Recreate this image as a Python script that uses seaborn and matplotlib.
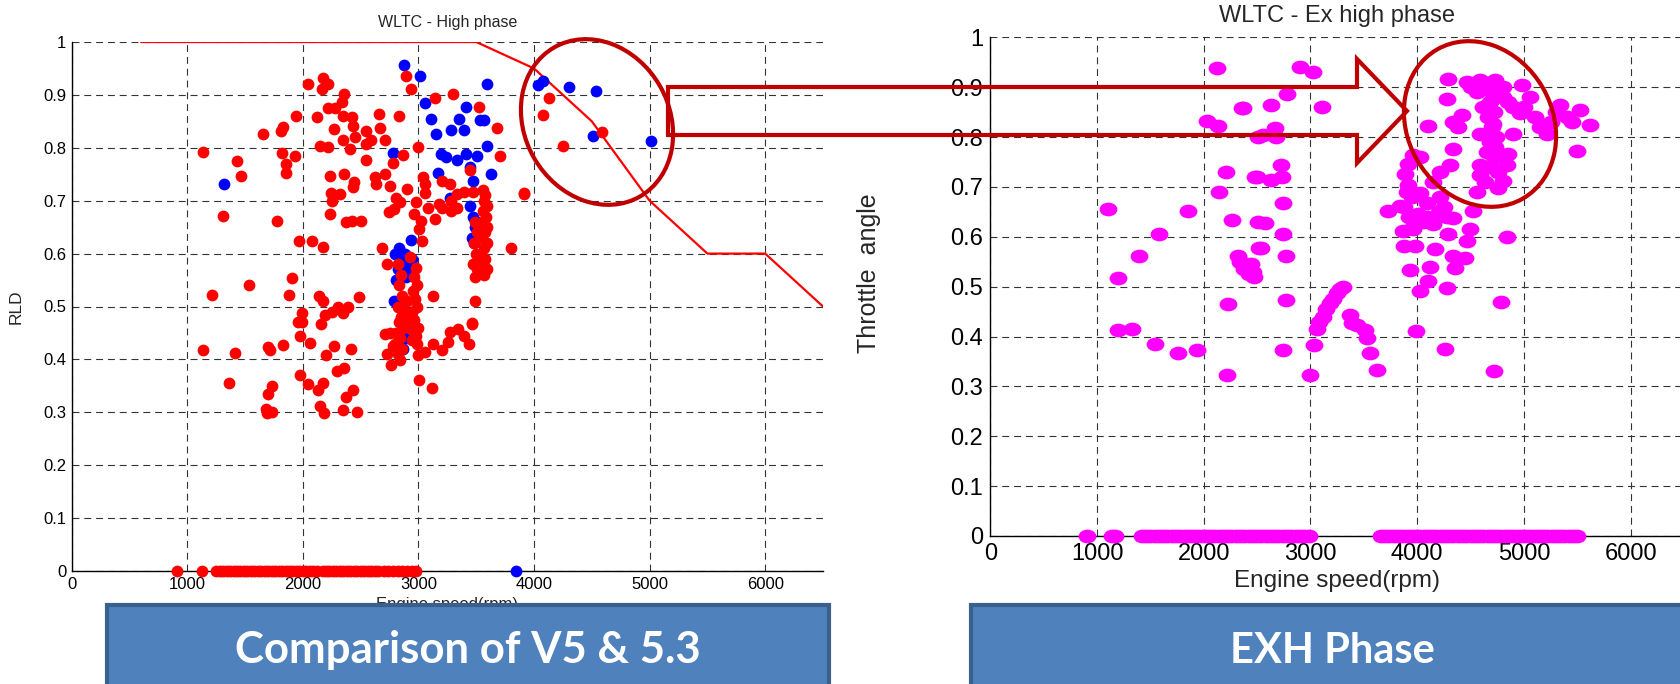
import numpy as np
import pandas as pd
import seaborn as sns
import matplotlib.pyplot as plt
from matplotlib.patches import Ellipse, Polygon, Rectangle
from matplotlib.path import Path
from matplotlib.markers import MarkerStyle
import matplotlib.transforms as mtransforms

# ---------------- left chart: WLTC high phase, RLD vs engine speed ----------------
red_rpm = [1135, 1212, 1308, 1428, 1465, 1536, 1656, 1807, 1829, 1820, 1850, 1853, 1928, 1943,
           1773, 1965, 1903, 1881, 2048, 2122, 2174, 2220, 2165, 2082, 2174, 2152, 2220, 2236,
           2236, 2251, 2245, 2319, 2353, 2375, 2421, 2504, 2443, 2436, 2220, 2276, 2335, 2359,
           2267, 2344, 2421, 2436, 2452, 2344, 2405, 2544, 2544, 2591, 2544, 2659, 2668, 2714,
           2628, 2637, 2708, 2831, 2889, 2939, 2776, 2862, 2998, 2754, 2806, 2899, 2837, 2745,
           2791, 2683, 2729, 3038, 3053, 3053, 2976, 2961, 3022, 3007, 3032, 3146, 3300, 3522,
           3677, 3707, 3448, 3911, 3800, 3207, 3269, 3177, 3084, 3207, 3284, 3331, 3392, 3470,
           3146, 3284, 3331, 3130, 3485, 3461,
           3560, 3580, 3570, 3590, 3555, 3585, 3560, 3595, 3575, 3550, 3590, 3565, 3545, 3580,
           3560, 3590, 3570, 3490, 3510, 3480, 3500, 3520, 3470, 3505, 3490,
           2930, 2976, 2960, 2985, 2950, 2970, 2990, 2945, 2965, 3000, 2940, 2975, 2990,
           2820, 2850, 2830, 2860, 2820, 2850, 2830, 2870, 2810, 2840, 2800, 2860, 2820, 2780,
           2750, 2880, 2900, 2890,
           1135, 1413, 1357, 1696, 1712, 1829, 1696, 1733, 1681, 1687, 1733, 1974, 2060, 1974,
           2042, 2128, 2174, 2150, 2180, 2202, 2267, 2298, 2359, 2375, 2436, 2350, 2467, 2415,
           1989, 2159, 2729, 2766, 2837, 3007, 3115, 2993, 3053, 3130, 3207, 3254, 3269, 3346,
           3392, 3439, 3461, 2714, 2945,
           2483, 2390, 2344, 2190, 2137, 2174, 1989, 1958, 2250, 2300,
           4132, 4074, 4585, 4253, 3913]
red_rld = [.793, .522, .671, .775, .747, .541, .827, .832, .840, .790, .769, .753, .785, .860,
           .662, .624, .553, .521, .921, .859, .932, .921, .912, .624, .612, .803, .801, .747,
           .675, .700, .714, .713, .750, .659, .662, .662, .735, .726, .875, .875, .887, .902,
           .836, .861, .858, .842, .820, .814, .798, .832, .807, .815, .776, .864, .837, .814,
           .744, .731, .750, .861, .935, .911, .772, .787, .801, .728, .706, .722, .697, .678,
           .684, .611, .580, .744, .731, .714, .697, .675, .662, .646, .623, .894, .901, .877,
           .838, .785, .758, .712, .611, .738, .731, .693, .687, .687, .700, .713, .716, .716,
           .665, .681, .687, .520, .510, .468,
           .72, .71, .70, .69, .68, .67, .66, .65, .64, .63, .62, .61, .60, .59,
           .58, .57, .56, .66, .64, .62, .60, .59, .58, .57, .555,
           .593, .573, .556, .54, .53, .515, .50, .49, .475, .46, .455, .445, .43,
           .58, .56, .54, .52, .50, .48, .47, .46, .45, .44, .43, .42, .41, .425,
           .45, .49, .51, .47,
           .417, .412, .356, .423, .417, .428, .335, .349, .307, .298, .301, .445, .431, .370,
           .354, .342, .355, .312, .298, .408, .426, .378, .384, .329, .343, .304, .301, .420,
           .470, .467, .411, .389, .399, .362, .345, .408, .414, .429, .417, .432, .451, .458,
           .445, .429, .467, .448, .436,
           .518, .50, .487, .484, .52, .51, .487, .47, .49, .50,
           .895, .862, .829, .804, .714]

blue_rpm = [1320, 2877, 3013, 3593, 3059, 3109, 3155, 3411, 3352, 3281, 3395, 3531, 3571, 3593,
            3198, 3238, 3334, 3414, 3507, 3170, 3445, 3473, 3624, 2776, 3275, 2939,
            2800, 2830, 2860, 2880, 2900, 2820, 2850, 2890, 2920, 2940, 2810,
            2790, 2830, 2860, 2880, 2900, 2840, 2870, 2940, 2950,
            3450, 3470, 3490, 3460, 3480, 3510,
            4036, 4074, 4305, 4535, 4512, 5009]
blue_rld = [.731, .956, .936, .920, .885, .854, .826, .877, .855, .834, .833, .852, .853, .803,
            .788, .782, .776, .788, .784, .752, .763, .738, .750, .790, .706, .625,
            .60, .61, .59, .60, .58, .57, .56, .555, .57, .59, .55,
            .51, .50, .47, .45, .44, .43, .42, .49, .47,
            .69, .67, .65, .63, .62, .66,
            .919, .927, .914, .908, .823, .812]

red_zero_rpm = [910, 1130, 1250, 1280, 1310, 1340, 1370, 1400, 1430, 1460, 1490, 1520, 1550,
                1580, 1610, 1640, 1670, 1700, 1730, 1760, 1790, 1820, 1850, 1880, 1910, 1940,
                1970, 2000, 2030, 2060, 2090, 2120, 2170, 2200, 2230, 2260, 2290, 2320, 2350,
                2380, 2410, 2440, 2470, 2500, 2530, 2560, 2590, 2620, 2650, 2700, 2740, 2780,
                2820, 2860, 2900, 2940, 2980]
blue_zero_rpm = [3846]

limit_rpm = [600, 3500, 4000, 4500, 5000, 5500, 6000, 6500]
limit_rld = [1.0, 1.0, 0.95, 0.85, 0.70, 0.60, 0.60, 0.50]

# ---------------- right chart: WLTC extra high phase, throttle angle ----------------
exh_rpm = [2125, 2362, 2028, 2131, 2206, 2143, 2262, 1100, 1856, 1581, 1391, 1194, 2318, 2225,
           2340, 2380, 2420, 2460, 2400, 2509, 2481, 2515, 2509,
           1194, 1331, 1544, 1762, 1934, 2221,
           2903, 3021, 2784, 3112, 2631, 2372, 2668, 2553, 2680, 2725, 2497, 2631, 2731, 2746,
           2575, 2746, 2534, 2769, 2440, 2468, 2769,
           3059, 3121, 3184, 3246, 3309, 3080, 3150, 3215, 3280, 3371, 3434, 3512, 3034, 2996,
           2746, 3387, 3528, 3559, 3621, 3990, 4259, 4724,
           4105, 4277, 4293, 4465, 4589, 4730, 4980, 5058, 5339, 5527, 5620, 5501, 5214, 5151,
           4964, 4418, 4340, 4387, 4620, 4714, 4589, 4902, 4730, 4340, 4308, 4589, 4839, 4855,
           4589, 4808, 4761, 4558, 4214, 4152, 3964, 4027, 3917, 3886, 3917, 3949, 4027, 4089,
           4214, 4277, 4340, 4527, 4089, 4011, 3730, 3839, 3870, 3964, 4496, 4840, 4293, 4465,
           3880, 3980, 4168, 4340, 4448, 4355, 3933, 4121, 4105, 4027, 4277, 4783,
           4650, 4700, 4680, 4720, 4660, 4700, 4740, 4680, 4650, 4720, 4690, 4760, 4640, 4800,
           4850, 4900, 5000, 5100, 5250, 5300, 5400, 5450, 4800, 4560, 4500,
           3900, 3880, 3920, 3960, 4050, 4150, 4200, 4250]
exh_ta = [.939, .858, .832, .822, .729, .690, .634, .655, .652, .605, .562, .517, .562, .465,
          .55, .535, .525, .53, .545, .630, .720, .577, .80,
          .413, .416, .385, .366, .372, .323,
          .941, .930, .886, .861, .864, .858, .818, .804, .80, .743, .720, .714, .720, .668,
          .628, .605, .577, .562, .545, .52, .473,
          .416, .440, .467, .487, .500, .43, .455, .475, .495, .443, .423, .413, .382, .323,
          .372, .427, .398, .366, .333, .411, .375, .330,
          .822, .876, .916, .911, .914, .914, .904, .881, .864, .854, .824, .773, .807, .82,
          .848, .844, .83, .82, .861, .827, .806, .807, .78, .776, .744, .744, .744, .766,
          .724, .712, .697, .690, .730, .71, .764, .76, .745, .725, .703, .68, .687, .667,
          .68, .640, .637, .652, .64, .645, .652, .662, .612, .615, .615, .599, .605, .591,
          .581, .581, .576, .561, .558, .537, .533, .539, .511, .492, .498, .470,
          .90, .89, .87, .85, .84, .82, .80, .79, .77, .76, .74, .73, .71, .88,
          .87, .86, .86, .84, .83, .85, .84, .83, .90, .89, .90,
          .69, .66, .64, .62, .63, .625, .65, .66]

exh_zero_rpm = [906, 1140, 1170, 1420, 1460, 1500, 1540, 1580, 1620, 1660, 1700, 1740, 1780,
                1820, 1860, 1900, 1940, 1980, 2020, 2060, 2100, 2140, 2180, 2220, 2260, 2300,
                2340, 2380, 2420, 2460, 2500, 2540, 2580, 2620, 2660, 2700, 2740, 2780, 2820,
                2860, 2900, 2940, 2990,
                3665, 3700, 3740, 3780, 3820, 3860, 3900, 3940, 3980, 4020, 4060, 4100, 4140,
                4180, 4220, 4260, 4300, 4340, 4380, 4420, 4460, 4500, 4540, 4580, 4620, 4660,
                4700, 4740, 4780, 4820, 4860, 4900, 4940, 4980, 5020, 5060, 5100, 5140, 5180,
                5220, 5260, 5300, 5340, 5380, 5420, 5460, 5500]

yticks = [0, 0.1, 0.2, 0.3, 0.4, 0.5, 0.6, 0.7, 0.8, 0.9, 1.0]
xticks = [0, 1000, 2000, 3000, 4000, 5000, 6000]

sns.set_style('white')
plt.rcParams['font.family'] = ['Liberation Sans', 'DejaVu Sans']
plt.rcParams['lines.scale_dashes'] = False

W, H = 1681, 684
fig = plt.figure(figsize=(W / 100, H / 100), dpi=100)


def px_axes(x0, y0, x1, y1):
    # pixel box (top-left origin) -> figure fraction
    return fig.add_axes([x0 / W, 1 - y1 / H, (x1 - x0) / W, (y1 - y0) / H])


def style_axes(ax, fs, pad):
    ax.set_xlim(0, 6500)
    ax.set_ylim(0, 1)
    ax.set_xticks(xticks)
    ax.set_yticks(yticks)
    ax.set_xticklabels([f'{v:g}' for v in xticks])
    ax.set_yticklabels([f'{v:g}' for v in yticks])
    ax.grid(True, color='#333333', lw=0.8, ls=(0, (5, 3.5)))
    for s in ['top', 'right']:
        ax.spines[s].set_visible(False)
    for s in ['left', 'bottom']:
        ax.spines[s].set_color('black')
        ax.spines[s].set_linewidth(1)
    ax.tick_params(direction='in', length=4, width=1, labelsize=fs, colors='black', pad=pad)


# left chart
ax1 = px_axes(71.7, 42, 823, 571)
style_axes(ax1, 12, 4)
sns.lineplot(x=limit_rpm, y=limit_rld, color='red', lw=1.6, sort=False, estimator=None, ax=ax1)
sns.scatterplot(x=blue_rpm, y=blue_rld, color='blue', s=72, linewidth=0, ax=ax1, zorder=3, clip_on=False)
sns.scatterplot(x=red_rpm, y=red_rld, color='red', s=72, linewidth=0, ax=ax1, zorder=3, clip_on=False)
sns.scatterplot(x=red_zero_rpm, y=[0] * len(red_zero_rpm), color='red', s=72, linewidth=0, ax=ax1, zorder=3, clip_on=False)
sns.scatterplot(x=blue_zero_rpm, y=[0] * len(blue_zero_rpm), color='blue', s=72, linewidth=0, ax=ax1, zorder=3, clip_on=False)
ax1.set_title('WLTC - High phase', fontsize=11.5, pad=11)
ax1.set_ylabel('RLD', fontsize=12.5)
ax1.yaxis.set_label_coords(-0.064, 0.5)
ax1.set_xlabel('Engine speed(rpm)', fontsize=12)

# right chart (picture is horizontally stretched, so markers are flat ellipses)
ell = Path.unit_circle().transformed(mtransforms.Affine2D().scale(1.3, 1.0))
ell_marker = MarkerStyle(ell)
ax2 = px_axes(990.3, 37.3, 1684, 536)
style_axes(ax2, 17, 5)
sns.scatterplot(x=exh_rpm, y=exh_ta, color='#FF00FF', marker=ell_marker, s=165, linewidth=0, ax=ax2, zorder=3, clip_on=False)
sns.scatterplot(x=exh_zero_rpm, y=[0] * len(exh_zero_rpm), color='#FF00FF', marker=ell_marker, s=165, linewidth=0, ax=ax2, zorder=3, clip_on=False)
ax2.set_title('WLTC - Ex high phase', fontsize=17, pad=11)
ax2.set_ylabel('Throttle  angle', fontsize=18)
ax2.yaxis.set_label_coords(-0.157, 0.527)
ax2.set_xlabel('Engine speed(rpm)', fontsize=17.5, labelpad=4)

# overlay in pixel coordinates: highlight ellipses, arrow, caption boxes
ov = fig.add_axes([0, 0, 1, 1], zorder=10)
ov.set_xlim(0, W)
ov.set_ylim(H, 0)
ov.axis('off')
ov.patch.set_alpha(0)

dark_red = '#C00000'
ov.add_patch(Ellipse((597, 122), 145, 172, angle=-30, fill=False, ec=dark_red, lw=3))
ov.add_patch(Ellipse((1480, 124), 145, 172, angle=-30, fill=False, ec=dark_red, lw=3))
ov.add_patch(Polygon([(668, 87), (1357, 87), (1357, 59), (1407, 111), (1357, 163), (1357, 135), (668, 135)],
                     closed=True, fill=False, ec=dark_red, lw=3, joinstyle='miter'))

box_fc = '#4F81BD'
box_ec = '#3A5F8B'
ov.add_patch(Rectangle((107, 605), 722, 100, fc=box_fc, ec=box_ec, lw=3))
ov.add_patch(Rectangle((971, 605), 730, 100, fc=box_fc, ec=box_ec, lw=3))
ov.text(468, 663, 'Comparison of V5 & 5.3', ha='center', va='baseline', color='white',
        fontsize=31.5, fontweight='bold', family=['Lato', 'DejaVu Sans'])
ov.text(1332, 663, 'EXH Phase', ha='center', va='baseline', color='white',
        fontsize=30, fontweight='bold', family=['Lato', 'DejaVu Sans'])

fig.savefig('out.png', dpi=100)
